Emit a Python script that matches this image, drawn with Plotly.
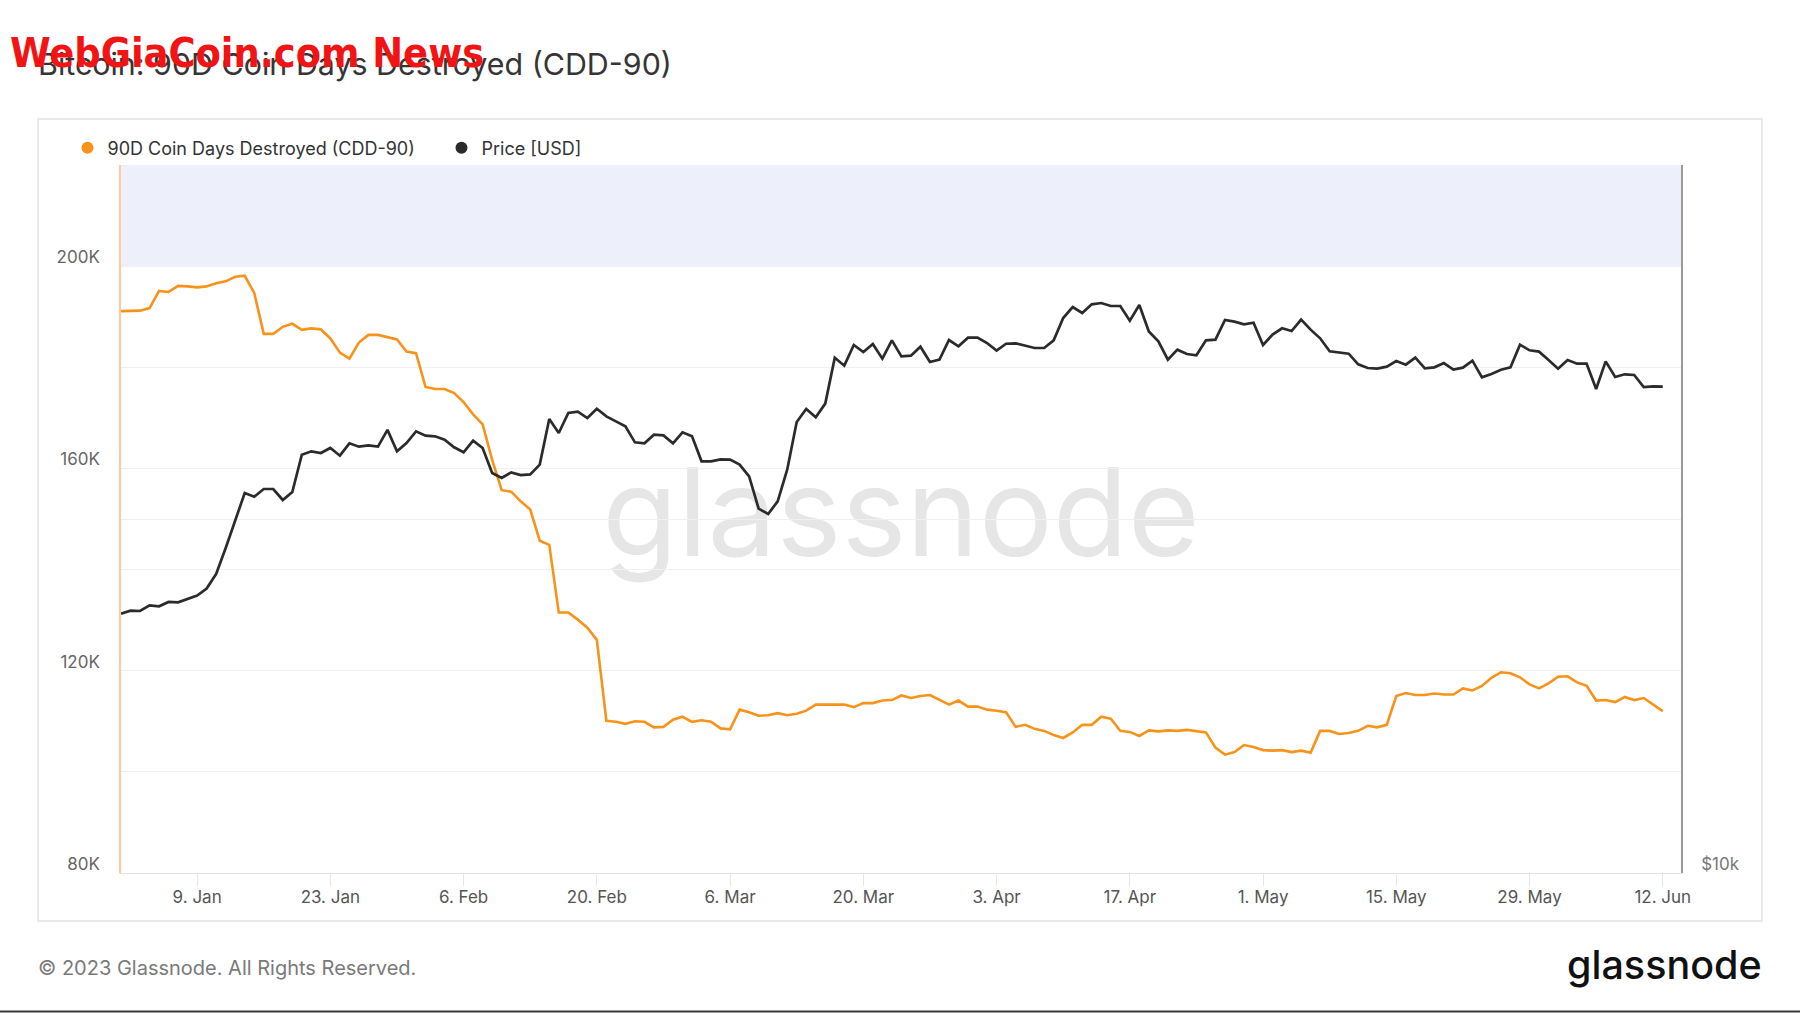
import math
import pandas as pd
import plotly.graph_objects as go

# ---------------- data ----------------
start_date = "2023-01-01"

cdd90_thousands = [
    191.1, 191.1, 191.2, 191.7, 195.1, 194.9, 196.1, 196.0, 195.8, 196.0,
    196.6, 197.0, 197.9, 198.1, 194.7, 186.6, 186.6, 188.0, 188.6, 187.4,
    187.7, 187.5, 185.7, 182.9, 181.7, 184.9, 186.4, 186.4, 185.9, 185.5,
    183.1, 182.8, 176.1, 175.7, 175.7, 174.9, 173.1, 170.7, 168.7, 161.7,
    155.7, 155.4, 153.5, 151.9, 145.7, 144.9, 131.5, 131.5, 130.1, 128.5,
    126.1, 110.1, 109.9, 109.5, 110.0, 109.9, 108.8, 108.9, 110.3, 110.9,
    109.9, 110.2, 109.9, 108.6, 108.4, 112.3, 111.8, 111.1, 111.2, 111.6,
    111.2, 111.5, 112.1, 113.3, 113.3, 113.3, 113.3, 112.8, 113.6, 113.6,
    114.1, 114.2, 115.1, 114.6, 115.0, 115.2, 114.3, 113.3, 114.1, 112.9,
    112.9, 112.3, 112.1, 111.8, 108.9, 109.3, 108.5, 108.1, 107.3, 106.7,
    107.8, 109.3, 109.3, 110.9, 110.5, 108.1, 107.9, 107.1, 108.2, 108.0,
    108.2, 108.1, 108.3, 108.1, 107.8, 104.8, 103.4, 103.9, 105.3, 104.9,
    104.3, 104.2, 104.3, 103.9, 104.2, 103.8, 108.1, 108.1, 107.5, 107.7,
    108.1, 109.1, 108.8, 109.3, 115.0, 115.6, 115.2, 115.2, 115.5, 115.3,
    115.3, 116.5, 116.1, 117.0, 118.6, 119.7, 119.5, 118.7, 117.3, 116.5,
    117.5, 118.8, 118.9, 117.7, 117.0, 114.1, 114.2, 113.8, 114.8, 114.2,
    114.6, 113.3, 112.0,
]

price_usd = [
    16616, 16714, 16703, 16890, 16857, 17001, 16990, 17090, 17213, 17452,
    17960, 18896, 19909, 21043, 20894, 21210, 21210, 20758, 21086, 22684,
    22835, 22760, 22984, 22640, 23195, 23044, 23104, 23044, 23815, 22835,
    23209, 23746, 23545, 23514, 23361, 23014, 22790, 23316, 22984, 21885,
    21671, 21912, 21798, 21827, 22247, 24323, 23670, 24612, 24676, 24371,
    24822, 24451, 24214, 23978, 23240, 23195, 23590, 23560, 23195, 23701,
    23514, 22392, 22392, 22479, 22464, 22247, 21741, 20409, 20196, 20704,
    22027, 24183, 24806, 24404, 25070, 27430, 27004, 28118, 27736, 28174,
    27376, 28376, 27502, 27538, 28026, 27198, 27322, 28394, 28044, 28526,
    28526, 28228, 27808, 28190, 28209, 28081, 27953, 27953, 28376, 29644,
    30290, 29936, 30448, 30528, 30349, 30349, 29490, 30409, 28874, 28322,
    27322, 27862, 27626, 27555, 28376, 28412, 29530, 29434, 29281, 29377,
    28118, 28694, 29052, 28900, 29550, 28977, 28489, 27772, 27700, 27646,
    27073, 26880, 26845, 26950, 27251, 27056, 27430, 26862, 26915, 27144,
    26792, 26897, 27269, 26393, 26566, 26792, 26915, 28137, 27827, 27755,
    27304, 26845, 27304, 27109, 27109, 25796, 27233, 26411, 26550, 26515,
    25898, 25932, 25915,
]

x_tick_dates = ["2023-01-09", "2023-01-23", "2023-02-06", "2023-02-20",
                "2023-03-06", "2023-03-20", "2023-04-03", "2023-04-17",
                "2023-05-01", "2023-05-15", "2023-05-29", "2023-06-12"]
x_tick_labels = ["9. Jan", "23. Jan", "6. Feb", "20. Feb", "6. Mar", "20. Mar",
                 "3. Apr", "17. Apr", "1. May", "15. May", "29. May", "12. Jun"]

left_tickvals = [80000, 100000, 120000, 140000, 160000, 180000, 200000]
left_ticktext = ["80K", "", "120K", "", "160K", "", "200K"]
right_tickvals = [10000, 20000]
right_ticktext = ["$10k", ""]

series_names = ["90D Coin Days Destroyed (CDD-90)", "Price [USD]"]

# ---------------- figure ----------------
dates = pd.date_range(start_date, periods=len(cdd90_thousands), freq="D")
cdd90 = [v * 1000 for v in cdd90_thousands]

ORANGE = "#f7931a"
DARK = "#2b2b2b"
FONT = "Inter, Noto Sans, sans-serif"

fig = go.Figure()
fig.add_trace(go.Scatter(x=dates, y=cdd90, mode="lines",
                         line=dict(color=ORANGE, width=2.6),
                         name=series_names[0], showlegend=False, yaxis="y"))
fig.add_trace(go.Scatter(x=dates, y=price_usd, mode="lines",
                         line=dict(color=DARK, width=2.7),
                         name=series_names[1], showlegend=False, yaxis="y2"))
# legend entries (dot markers like the original)
fig.add_trace(go.Scatter(x=[None], y=[None], mode="markers",
                         marker=dict(color=ORANGE, size=12),
                         name=series_names[0], yaxis="y", legend="legend"))
fig.add_trace(go.Scatter(x=[None], y=[None], mode="markers",
                         marker=dict(color=DARK, size=12),
                         name=series_names[1], yaxis="y", legend="legend2"))

W, H = 1800, 1013
L, R, T, B = 121, 119, 165, 140
pw, ph = W - L - R, H - T - B


def px(xp):
    return (xp - L) / pw


def py(yp):
    return (H - B - yp) / ph


legend_style = dict(orientation="h", xanchor="left", y=py(148),
                    yanchor="middle", font=dict(size=18, color="#333"),
                    bgcolor="rgba(0,0,0,0)")

fig.update_layout(
    width=W, height=H,
    margin=dict(l=L, r=R, t=T, b=B),
    paper_bgcolor="white", plot_bgcolor="rgba(0,0,0,0)",
    font=dict(family=FONT, color="#555", size=17),
    title=dict(text="Bitcoin: 90D Coin Days Destroyed (CDD-90)",
               x=38 / W, xref="container", xanchor="left",
               y=1 - 64 / H, yref="container", yanchor="middle",
               font=dict(size=30.4, color="#353535", family=FONT)),
    legend=dict(x=px(67.5), **legend_style),
    legend2=dict(x=px(441.5), **legend_style),
    xaxis=dict(type="date", range=["2023-01-01", "2023-06-13 22:00"],
               tickvals=x_tick_dates, ticktext=x_tick_labels,
               showgrid=False, zeroline=False,
               showline=True, linecolor="#e3e3e3", linewidth=1,
               ticks="outside", ticklen=12, tickcolor="#e6e6e6",
               ticklabelstandoff=-3,
               tickfont=dict(size=17, color="#555")),
    yaxis=dict(range=[80000, 220000], tickvals=left_tickvals,
               ticktext=left_ticktext, showgrid=True, gridcolor="#f0f0f0",
               zeroline=False, showline=True, linecolor="#ffcc99",
               linewidth=1.5, ticks="", ticklabelstandoff=16,
               ticklabelshift=-9, tickfont=dict(size=17, color="#666")),
    yaxis2=dict(type="log", overlaying="y", side="right",
                range=[4, math.log10(40000)], tickvals=right_tickvals,
                ticktext=right_ticktext, showgrid=True, gridcolor="#f0f0f0",
                zeroline=False, showline=True, linecolor="#9a9a9a",
                linewidth=1.5, ticks="", ticklabelstandoff=15,
                ticklabelshift=-9, tickfont=dict(size=17, color="#777")),
    shapes=[
        # light band above 200K
        dict(type="rect", xref="paper", x0=0, x1=1, yref="y",
             y0=200000, y1=220000, fillcolor="#edf0fb", line=dict(width=0),
             layer="below"),
        # watermark
        dict(type="rect", xref="paper", x0=0, x1=1, yref="paper",
             y0=0.0165, y1=1.0165,
             fillcolor="rgba(0,0,0,0)", line=dict(width=0), layer="below",
             label=dict(text="glassnode", textposition="middle center",
                        font=dict(size=123, color="#e6e6e6", family=FONT))),
        # outer container
        dict(type="rect", xref="paper", yref="paper",
             x0=px(38), x1=px(1762), y0=py(921), y1=py(119),
             fillcolor="rgba(0,0,0,0)", line=dict(color="#e2e2e2", width=1.5),
             layer="below"),
        # bottom page rule
        dict(type="line", xref="paper", yref="paper",
             x0=px(0), x1=px(W), y0=py(1011.5), y1=py(1011.5),
             line=dict(color="#3a3a3a", width=2)),
    ],
    annotations=[
        dict(text="© 2023 Glassnode. All Rights Reserved.", xref="paper",
             yref="paper", x=px(36), y=py(968), xanchor="left",
             yanchor="middle", showarrow=False,
             font=dict(size=20, color="#7a7a7a", family=FONT)),
        dict(text="glassnode", xref="paper", yref="paper", x=px(1764),
             y=py(965), xanchor="right", yanchor="middle", showarrow=False,
             font=dict(size=39.5, color="#111", family=FONT, weight=500)),
        dict(text="<b>WebGiaCoin.com News</b>", xref="paper", yref="paper",
             x=px(8), y=py(53), xanchor="left", yanchor="middle",
             showarrow=False,
             font=dict(size=41, color="#f21414",
                       family="Liberation Sans Narrow, DejaVu Sans Condensed, sans-serif")),
    ],
)

fig.write_html("out.html")
